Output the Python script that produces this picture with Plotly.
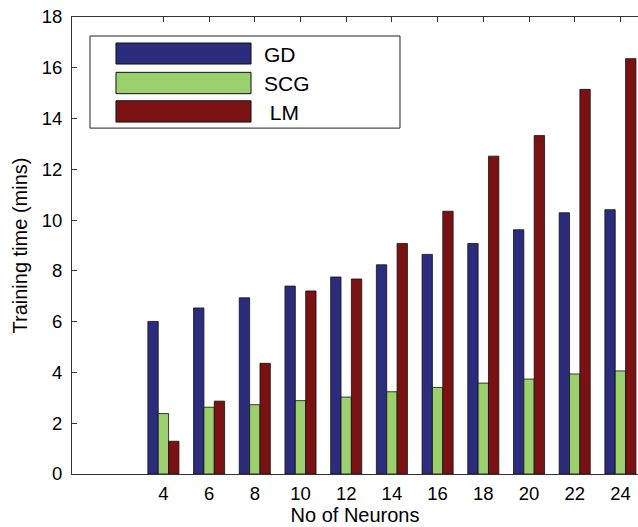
import plotly.graph_objects as go

neurons = [4, 6, 8, 10, 12, 14, 16, 18, 20, 22, 24]
gd = [6.01, 6.54, 6.94, 7.40, 7.76, 8.24, 8.65, 9.08, 9.62, 10.29, 10.41]
scg = [2.38, 2.63, 2.73, 2.89, 3.03, 3.24, 3.41, 3.58, 3.74, 3.94, 4.06]
lm = [1.29, 2.87, 4.36, 7.21, 7.68, 9.08, 10.35, 12.52, 13.33, 15.15, 16.36]
series_names = ["GD", "SCG", " LM"]
colors = ["#2b2c7c", "#9ccf6e", "#7a1214"]
y_ticks = list(range(0, 19, 2))

FONT = "Liberation Sans, Arial, Helvetica, sans-serif"

fig = go.Figure()
for name, vals, col in zip(series_names, [gd, scg, lm], colors):
    fig.add_trace(go.Bar(
        x=neurons, y=vals, name=name.strip(),
        marker=dict(color=col, line=dict(color="#111111", width=0.8)),
        showlegend=False,
    ))

# legend box drawn manually (MATLAB style with wide swatches)
box = dict(x0=0.0318, x1=0.5795, y0=0.7569, y1=0.9584)
fig.add_shape(type="rect", xref="paper", yref="paper", **box,
              line=dict(color="#222222", width=1), fillcolor="white", layer="above")
sw_y = [(0.8971, 0.9431), (0.8322, 0.8789), (0.7701, 0.8167)]
txt_y = [0.917, 0.855, 0.792]
for name, col, (y0, y1), ty in zip(series_names, colors, sw_y, txt_y):
    fig.add_shape(type="rect", xref="paper", yref="paper",
                  x0=0.0777, x1=0.3163, y0=y0, y1=y1,
                  fillcolor=col, line=dict(color="#111111", width=1), layer="above")
    fig.add_annotation(x=0.336, y=ty, xref="paper", yref="paper",
                       text=name.replace(" ", "&nbsp;"), showarrow=False,
                       xanchor="left", yanchor="middle",
                       font=dict(family=FONT, size=21, color="black"))

fig.update_layout(
    width=638, height=527,
    margin=dict(l=72, r=0, t=17, b=53),
    paper_bgcolor="white", plot_bgcolor="white",
    barmode="group", bargap=0.32, bargroupgap=0,
    font=dict(family=FONT, size=18.5, color="black"),
)
fig.update_xaxes(
    range=[0, 24.77], tickvals=neurons, ticktext=[str(n) for n in neurons],
    ticks="inside", ticklen=5, tickcolor="#333333",
    showline=True, linecolor="#333333", linewidth=1, mirror="ticks",
    showgrid=False, zeroline=False, layer="below traces",
    ticklabelstandoff=3,
    title=dict(text="No of Neurons", font=dict(size=20), standoff=0),
    tickfont=dict(size=18.5),
)
fig.update_yaxes(
    range=[0, 18], tickvals=y_ticks,
    ticks="inside", ticklen=5, tickcolor="#333333",
    showline=True, linecolor="#333333", linewidth=1, mirror=False,
    showgrid=False, zeroline=False, layer="below traces",
    ticklabelstandoff=5,
    title=dict(text="Training time (mins)", font=dict(size=20), standoff=8),
    tickfont=dict(size=18.5),
)

fig.write_html("out.html", config={"displayModeBar": False},
               post_script="document.body.style.margin='0';document.body.style.overflow='hidden';")
